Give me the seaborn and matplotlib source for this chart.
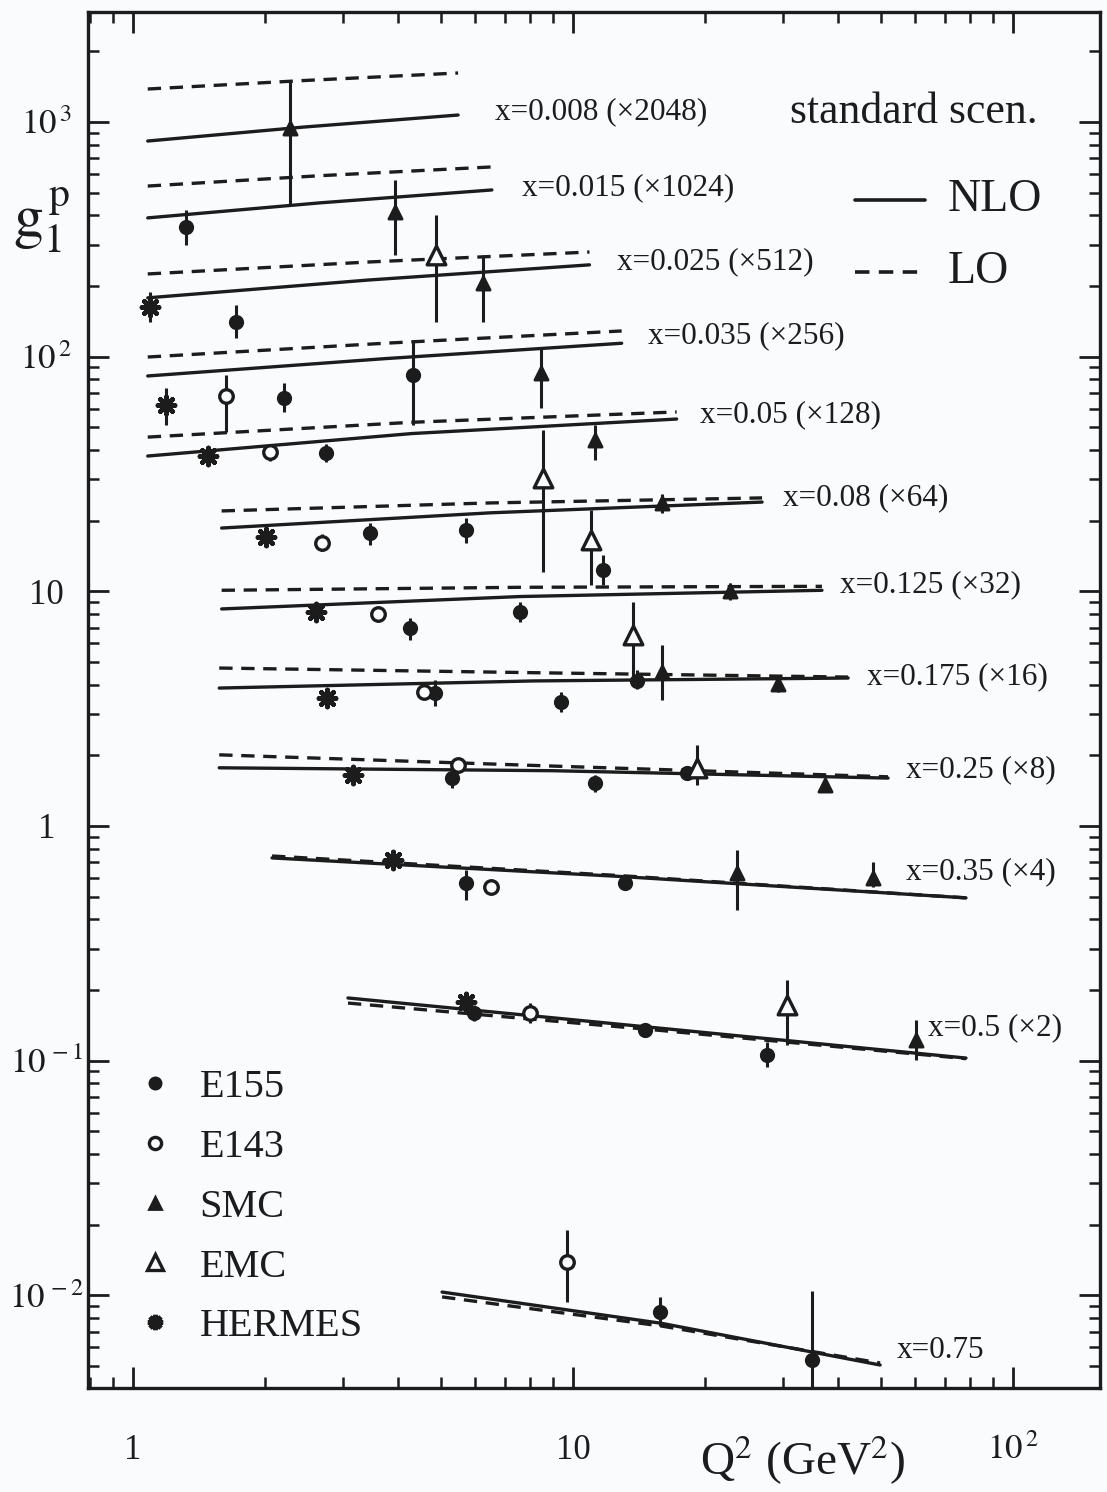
import matplotlib
matplotlib.use('Agg')
import numpy as np
import pandas as pd
import matplotlib.pyplot as plt
from matplotlib.lines import Line2D
from matplotlib.ticker import FixedLocator, FixedFormatter, LogLocator, NullFormatter
import seaborn as sns

# ---------------- theory curves: g1^p (scaled) vs Q^2 ----------------
curve_labels = ['x=0.008 (×2048)', 'x=0.015 (×1024)', 'x=0.025 (×512)', 'x=0.035 (×256)',
                'x=0.05 (×128)', 'x=0.08 (×64)', 'x=0.125 (×32)', 'x=0.175 (×16)',
                'x=0.25 (×8)', 'x=0.35 (×4)', 'x=0.5 (×2)', 'x=0.75']
curve_q2 = [[1.08, 2.43, 5.48], [1.08, 2.66, 6.54], [1.08, 3.43, 10.9], [1.08, 3.73, 12.9],
            [1.08, 4.3, 17.2], [1.59, 6.5, 26.9], [1.59, 7.6, 36.8], [1.57, 8.1, 42.2],
            [1.57, 9.0, 52.0], [2.07, 12.7, 78.2], [3.08, 15.5, 78.2], [5.04, 15.9, 49.9]]
nlo_g1 = [[829, 950, 1070], [390, 452, 513], [178, 212, 246], [82.7, 98, 114],
          [37.7, 47, 54.2], [18.6, 21.6, 24.0], [8.41, 9.5, 10.1], [3.87, 4.15, 4.27],
          [1.77, 1.72, 1.60], [0.731, 0.61, 0.494], [0.185, 0.138, 0.1026],
          [0.01033, 0.0076, 0.00505]]
lo_g1 = [[1381, 1500, 1616], [533, 590, 643], [225, 253, 279], [99.6, 114, 128.6],
         [45.4, 52.5, 58.1], [22.0, 23.8, 25.0], [10.1, 10.4, 10.5], [4.71, 4.5, 4.31],
         [2.01, 1.80, 1.62], [0.745, 0.615, 0.494], [0.176, 0.135, 0.1020],
         [0.00985, 0.0074, 0.00515]]

# ---------------- data points (value, error bar low / high) ----------------
e155_q2 = [1.32, 1.71, 2.20, 4.33, 2.74, 3.46, 5.71, 11.7, 4.26, 7.58, 4.86, 9.39, 14.0,
           5.31, 11.2, 18.2, 5.71, 13.1, 5.96, 14.6, 27.6, 15.8, 34.9]
e155_g1 = [357, 140, 66.6, 83.5, 38.8, 17.7, 18.2, 12.3, 6.98, 8.16, 3.69, 3.38, 4.15,
           1.60, 1.52, 1.68, 0.572, 0.572, 0.160, 0.135, 0.1057, 0.0085, 0.00531]
e155_lo = [299, 120, 58.1, 51.1, 35.5, 15.7, 16.0, 10.6, 6.2, 7.4, 3.25, 3.06, 3.85,
           1.45, 1.40, 1.58, 0.484, 0.54, 0.148, 0.128, 0.094, 0.0074, 0.0040]
e155_hi = [421, 166, 77.2, 117.7, 42.5, 19.5, 20.6, 14.3, 7.7, 9.0, 4.19, 3.72, 4.6,
           1.76, 1.65, 1.80, 0.649, 0.61, 0.172, 0.142, 0.12, 0.0098, 0.0104]

e143_q2 = [1.63, 2.05, 2.69, 3.60, 4.59, 5.48, 6.51, 7.99, 9.69]
e143_g1 = [67.9, 39.2, 16.1, 8.0, 3.72, 1.82, 0.550, 0.160, 0.01387]
e143_lo = [47.7, 36.0, 14.8, 7.6, 3.55, 1.74, 0.53, 0.145, 0.00937]
e143_hi = [83.5, 42.5, 17.5, 8.4, 3.9, 1.90, 0.57, 0.176, 0.0190]

smc_q2 = [2.27, 3.94, 6.24, 8.46, 11.2, 15.9, 22.7, 15.9, 29.2, 37.4, 23.6, 48.1, 60.2]
smc_g1 = [942, 413, 206, 85.1, 44.1, 23.8, 10.0, 4.53, 4.03, 1.50, 0.630, 0.600, 0.1225]
smc_lo = [443, 271, 140, 60.4, 36.3, 21.5, 9.2, 3.44, 3.72, 1.42, 0.439, 0.55, 0.1007]
smc_hi = [1509, 566, 271, 110, 51.1, 26.0, 10.9, 5.91, 4.4, 1.59, 0.790, 0.70, 0.149]

emc_q2 = [4.88, 8.55, 11.0, 13.7, 19.1, 30.6]
emc_g1 = [271, 30.4, 16.5, 6.51, 1.77, 0.1727]
emc_lo = [140, 12.1, 10.6, 4.19, 1.50, 0.1167]
emc_hi = [401, 48.7, 22.2, 9.0, 2.21, 0.221]

hermes_q2 = [1.09, 1.19, 1.48, 2.01, 2.61, 2.76, 3.16, 3.90, 5.71]
hermes_g1 = [163, 62.2, 37.7, 17.0, 8.16, 3.51, 1.65, 0.717, 0.178]
hermes_lo = [140, 51.1, 35.0, 15.5, 7.7, 3.3, 1.57, 0.68, 0.165]
hermes_hi = [188, 73.5, 40.5, 18.6, 8.7, 3.75, 1.74, 0.76, 0.192]

# ---------------- style ----------------
sns.set_theme(style='ticks')
plt.rcParams['font.family'] = ['Liberation Serif', 'DejaVu Serif']
plt.rcParams['mathtext.fontset'] = 'stix'
ink = '#1c1c1c'
paper = '#f9fbfd'
dash = (0, (4.0, 2.6))

W, H = 1107, 1492
fig = plt.figure(figsize=(W / 100, H / 100), dpi=100, facecolor=paper)
ax = fig.add_axes([88 / W, 1 - 1388 / H, (1100 - 88) / W, (1388 - 12) / H])
ax.set_facecolor(paper)
ax.set_xscale('log')
ax.set_yscale('log')

# theory curves through seaborn
rows = []
for i, lab in enumerate(curve_labels):
    for q, vn, vl in zip(curve_q2[i], nlo_g1[i], lo_g1[i]):
        rows.append({'curve': lab, 'Q2': q, 'NLO': vn, 'LO': vl})
curves = pd.DataFrame(rows)
sns.lineplot(data=curves, x='Q2', y='NLO', units='curve', estimator=None, sort=True,
             color=ink, lw=2.4, ax=ax)
sns.lineplot(data=curves, x='Q2', y='LO', units='curve', estimator=None, sort=True,
             color=ink, lw=2.4, linestyle=dash, ax=ax)

# experiments: name, data, marker, face colour, size, edge width
experiments = [
    ('E155', e155_q2, e155_g1, e155_lo, e155_hi, 'o', ink, 80, 2.0),
    ('E143', e143_q2, e143_g1, e143_lo, e143_hi, 'o', paper, 95, 2.4),
    ('SMC', smc_q2, smc_g1, smc_lo, smc_hi, '^', ink, 90, 2.0),
    ('EMC', emc_q2, emc_g1, emc_lo, emc_hi, '^', paper, 180, 2.4),
    ('HERMES', hermes_q2, hermes_g1, hermes_lo, hermes_hi, (8, 2, 0), ink, 150, 3.4),
]
for name, q, g, lo, hi, mk, fc, size, ew in experiments:
    ax.vlines(q, lo, hi, color=ink, lw=2.2, zorder=3)
    sns.scatterplot(x=q, y=g, marker=mk, s=size, facecolor=fc, edgecolor=ink,
                    linewidth=ew, zorder=4, ax=ax, legend=False)

ax.set_xlim(0.79, 157.7)
ax.set_ylim(0.00403, 2940)

# ticks, all inward, on four sides
ax.xaxis.set_major_locator(FixedLocator([1, 10, 100]))
ax.xaxis.set_major_formatter(FixedFormatter(['1', '10', r'$10^{\,2}$']))
ax.xaxis.set_minor_locator(LogLocator(base=10, subs=np.arange(2, 10)))
ax.xaxis.set_minor_formatter(NullFormatter())
ax.yaxis.set_major_locator(FixedLocator([1e-2, 1e-1, 1, 10, 100, 1000]))
ax.yaxis.set_major_formatter(FixedFormatter([r'$10^{\,-2}$', r'$10^{\,-1}$', '1', '10',
                                             r'$10^{\,2}$', r'$10^{\,3}$']))
ax.yaxis.set_minor_locator(LogLocator(base=10, subs=np.arange(2, 10)))
ax.yaxis.set_minor_formatter(NullFormatter())
ax.tick_params(which='both', direction='in', top=True, right=True, color=ink)
ax.tick_params(which='major', length=15, width=2.0, labelsize=25, labelcolor=ink)
ax.tick_params(which='minor', length=8, width=1.8)
ax.tick_params(axis='x', which='major', pad=33)
ax.tick_params(axis='y', which='major', pad=30)
plt.setp(ax.get_yticklabels(), ha='center')
for sp in ax.spines.values():
    sp.set_linewidth(2.4)
    sp.set_color(ink)
ax.set_xlabel('')
ax.set_ylabel('')


def fpos(px, py):
    return px / W, 1 - py / H


# axis titles
fig.text(*fpos(42, 220), r'$\mathrm{g}_1^{\,\mathrm{p}}$', fontsize=43, color=ink,
         ha='center', va='center')
fig.text(*fpos(803, 1460), r'Q$^2$ (GeV$^2$)', fontsize=34, color=ink,
         ha='center', va='center')

# curve labels
label_pos = [(495, 112), (522, 188), (617, 262), (648, 336), (700, 415), (783, 498),
             (840, 585), (867, 677), (906, 770), (906, 872), (928, 1028), (897, 1350)]
for lab, (px, py) in zip(curve_labels, label_pos):
    fig.text(*fpos(px, py), lab, fontsize=22.5, color=ink, ha='left', va='center')

# scenario key
fig.text(*fpos(790, 112), 'standard scen.', fontsize=31.5, color=ink, ha='left', va='center')
fig.text(*fpos(948, 200), 'NLO', fontsize=33, color=ink, ha='left', va='center')
fig.text(*fpos(948, 272), 'LO', fontsize=33, color=ink, ha='left', va='center')
fig.add_artist(Line2D([855 / W, 925 / W], [1 - 200 / H] * 2, color=ink, lw=2.6))
fig.add_artist(Line2D([855 / W, 925 / W], [1 - 272 / H] * 2, color=ink, lw=2.6,
                      linestyle=dash))

# experiment legend
handles = [Line2D([], [], ls='none', marker=mk, markersize=np.sqrt(size) * 0.9,
                  markerfacecolor=fc, markeredgecolor=ink, markeredgewidth=ew)
           for name, q, g, lo, hi, mk, fc, size, ew in experiments]
leg = ax.legend(handles, [e[0] for e in experiments], loc='upper left',
                bbox_to_anchor=(31 / 1012, 1 - (1053 - 12) / 1376), frameon=False,
                fontsize=29, handlelength=1.0, handletextpad=0.6, labelspacing=0.56,
                borderaxespad=0)
for t in leg.get_texts():
    t.set_color(ink)

fig.savefig('out.png', dpi=100, facecolor=fig.get_facecolor())
